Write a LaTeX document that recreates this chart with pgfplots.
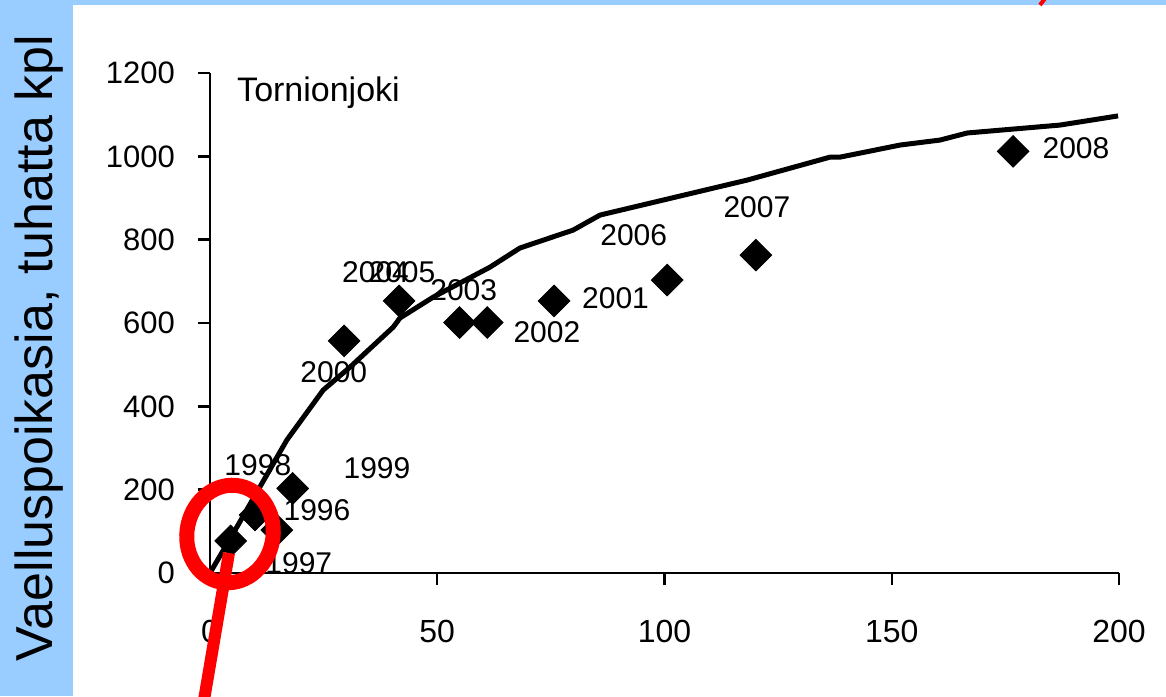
\documentclass[border=0pt]{standalone}
\usepackage{fontspec}
\setmainfont{Liberation Sans}
\usepackage{pgfplots}
\pgfplotsset{compat=1.18}
\definecolor{slidebg}{HTML}{99CCFF}

% smolt production, Tornionjoki (thousands)
\pgfplotstableread{
x y
4.55 77
9.9 139
14.7 103
18.2 203
29.5 557
41.6 653
54.9 601
61.0 601
75.7 653
100.6 703
120.1 763
176.7 1012
}\obs

\pgfplotstableread{
x y
0 0
5.9 110
16.9 319
24.9 439
30.8 494
40.3 590
41.8 612
49.1 662
61.6 734
68.2 780
79.9 823
85.8 859
118.2 943
136.4 998
138.6 998
151.8 1027
160.6 1039
166.6 1056
187.0 1075
199.8 1097
}\fit

\begin{document}
\begin{tikzpicture}
\begin{scope}[x=0.5pt,y=0.5pt]
  \clip (0,0) rectangle (1166,696);
  \fill[slidebg] (0,0) rectangle (1166,696);
  \fill[white] (73,0) rectangle (1166,691);
  \node[rotate=90,anchor=base,inner sep=0,font=\fontsize{26}{30}\selectfont] at (52,348) {Vaelluspoikasia, tuhatta kpl};
\end{scope}

\begin{axis}[at={(105pt,61.5pt)}, anchor=south west,
  scale only axis, width=454.5pt, height=250pt,
  axis lines*=left, axis line style={line width=1.2pt},
  xmin=0, xmax=200, ymin=0, ymax=1200,
  xtick={0,50,100,150,200}, ytick={0,200,...,1200},
  tick align=outside, major tick length=6pt,
  tick style={line width=1.2pt, black},
  ticklabel style={font=\fontsize{15.5}{18}\selectfont},
  xticklabel style={font=\fontsize{16}{18}\selectfont, yshift=-14pt},
  /pgf/number format/assume math mode=true,
  /pgf/number format/1000 sep={},
  yticklabel style={xshift=-8pt},
  clip=false]
\addplot[black, line width=2.5pt, line join=round] table[x=x,y=y] {\fit};
\addplot[only marks, mark=square*, mark size=5.6pt, mark options={rotate=45, black}] table[x=x,y=y] {\obs};
\node[anchor=west, inner sep=0, font=\fontsize{17}{20}\selectfont] at (axis cs:5.9,1152) {Tornionjoki};
\begin{scope}[every node/.style={anchor=west, inner sep=0, font=\fontsize{15}{18}\selectfont}]
\node at (axis cs:3.1,259) {1998};
\node at (axis cs:16.1,151) {1996};
\node at (axis cs:12.1,24) {1997};
\node at (axis cs:29.3,252) {1999};
\node at (axis cs:19.8,482) {2000};
\node at (axis cs:29.0,722) {2004};
\node at (axis cs:34.8,722) {2005};
\node at (axis cs:48.4,679) {2003};
\node at (axis cs:66.7,578) {2002};
\node at (axis cs:81.8,660) {2001};
\node at (axis cs:85.8,811) {2006};
\node at (axis cs:112.9,878) {2007};
\node at (axis cs:183.1,1020) {2008};
\end{scope}
\end{axis}

\begin{scope}[x=0.5pt,y=0.5pt]
  \clip (0,0) rectangle (1166,696);
  \draw[red, line width=7.5pt, rotate around={-12:(230,162)}] (230,162) ellipse [x radius=43, y radius=49];
  \draw[red, line width=6pt] (229,143) -- (203,-10);
  \draw[red, line width=2pt] (1047,700) -- (1040,691);
\end{scope}
\end{tikzpicture}
\end{document}
